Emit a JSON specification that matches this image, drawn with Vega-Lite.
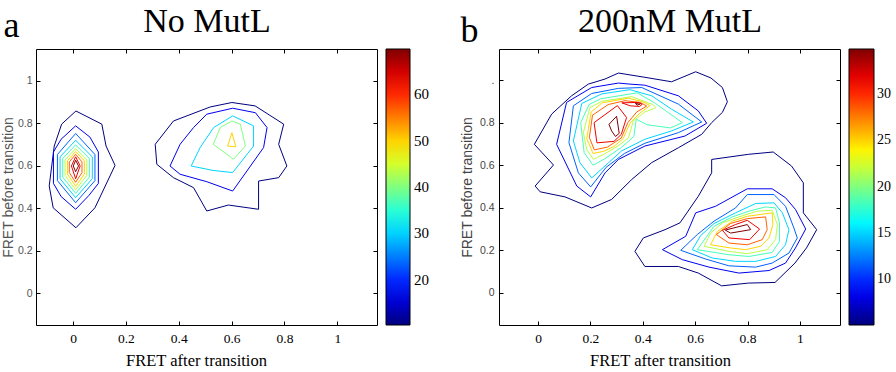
{
"$schema": "https://vega.github.io/schema/vega-lite/v6.json",
"padding": {"left": 0, "top": 3, "right": 0, "bottom": 0},
"background": "white",
"spacing": 29,
"datasets": {
"a": [
{"c":"A1","l":10.2,"i":0,"x":0.011,"y":0.858},{"c":"A1","l":10.2,"i":1,"x":0.109,"y":0.796},{"c":"A1","l":10.2,"i":2,"x":0.125,"y":0.693},{"c":"A1","l":10.2,"i":3,"x":0.159,"y":0.602},{"c":"A1","l":10.2,"i":4,"x":0.083,"y":0.402},{"c":"A1","l":10.2,"i":5,"x":0.011,"y":0.308},{"c":"A1","l":10.2,"i":6,"x":-0.075,"y":0.402},{"c":"A1","l":10.2,"i":7,"x":-0.09,"y":0.505},{"c":"A1","l":10.2,"i":8,"x":-0.071,"y":0.693},{"c":"A1","l":10.2,"i":9,"x":-0.043,"y":0.796},{"c":"A1","l":10.2,"i":10,"x":0.011,"y":0.858},
{"c":"A2","l":16.8,"i":0,"x":0.01,"y":0.788},{"c":"A2","l":16.8,"i":1,"x":0.064,"y":0.735},{"c":"A2","l":16.8,"i":2,"x":0.096,"y":0.665},{"c":"A2","l":16.8,"i":3,"x":0.096,"y":0.517},{"c":"A2","l":16.8,"i":4,"x":0.06,"y":0.46},{"c":"A2","l":16.8,"i":5,"x":0.01,"y":0.395},{"c":"A2","l":16.8,"i":6,"x":-0.045,"y":0.455},{"c":"A2","l":16.8,"i":7,"x":-0.074,"y":0.517},{"c":"A2","l":16.8,"i":8,"x":-0.074,"y":0.665},{"c":"A2","l":16.8,"i":9,"x":-0.045,"y":0.725},{"c":"A2","l":16.8,"i":10,"x":0.01,"y":0.788},
{"c":"A3","l":23.4,"i":0,"x":0.01,"y":0.752},{"c":"A3","l":23.4,"i":1,"x":0.083,"y":0.653},{"c":"A3","l":23.4,"i":2,"x":0.083,"y":0.53},{"c":"A3","l":23.4,"i":3,"x":0.01,"y":0.426},{"c":"A3","l":23.4,"i":4,"x":-0.059,"y":0.53},{"c":"A3","l":23.4,"i":5,"x":-0.059,"y":0.653},{"c":"A3","l":23.4,"i":6,"x":0.01,"y":0.752},
{"c":"A4","l":30.1,"i":0,"x":0.01,"y":0.72},{"c":"A4","l":30.1,"i":1,"x":0.073,"y":0.642},{"c":"A4","l":30.1,"i":2,"x":0.073,"y":0.539},{"c":"A4","l":30.1,"i":3,"x":0.01,"y":0.45},{"c":"A4","l":30.1,"i":4,"x":-0.049,"y":0.539},{"c":"A4","l":30.1,"i":5,"x":-0.049,"y":0.642},{"c":"A4","l":30.1,"i":6,"x":0.01,"y":0.72},
{"c":"A5","l":36.7,"i":0,"x":0.01,"y":0.698},{"c":"A5","l":36.7,"i":1,"x":0.062,"y":0.634},{"c":"A5","l":36.7,"i":2,"x":0.062,"y":0.547},{"c":"A5","l":36.7,"i":3,"x":0.01,"y":0.47},{"c":"A5","l":36.7,"i":4,"x":-0.039,"y":0.547},{"c":"A5","l":36.7,"i":5,"x":-0.039,"y":0.634},{"c":"A5","l":36.7,"i":6,"x":0.01,"y":0.698},
{"c":"A6","l":43.3,"i":0,"x":0.01,"y":0.681},{"c":"A6","l":43.3,"i":1,"x":0.052,"y":0.627},{"c":"A6","l":43.3,"i":2,"x":0.052,"y":0.555},{"c":"A6","l":43.3,"i":3,"x":0.01,"y":0.487},{"c":"A6","l":43.3,"i":4,"x":-0.03,"y":0.555},{"c":"A6","l":43.3,"i":5,"x":-0.03,"y":0.627},{"c":"A6","l":43.3,"i":6,"x":0.01,"y":0.681},
{"c":"A7","l":49.9,"i":0,"x":0.01,"y":0.667},{"c":"A7","l":49.9,"i":1,"x":0.043,"y":0.623},{"c":"A7","l":49.9,"i":2,"x":0.043,"y":0.561},{"c":"A7","l":49.9,"i":3,"x":0.01,"y":0.503},{"c":"A7","l":49.9,"i":4,"x":-0.021,"y":0.561},{"c":"A7","l":49.9,"i":5,"x":-0.021,"y":0.623},{"c":"A7","l":49.9,"i":6,"x":0.01,"y":0.667},
{"c":"A8","l":56.6,"i":0,"x":0.01,"y":0.654},{"c":"A8","l":56.6,"i":1,"x":0.034,"y":0.618},{"c":"A8","l":56.6,"i":2,"x":0.034,"y":0.568},{"c":"A8","l":56.6,"i":3,"x":0.01,"y":0.522},{"c":"A8","l":56.6,"i":4,"x":-0.014,"y":0.568},{"c":"A8","l":56.6,"i":5,"x":-0.014,"y":0.618},{"c":"A8","l":56.6,"i":6,"x":0.01,"y":0.654},
{"c":"A9","l":63.2,"i":0,"x":0.01,"y":0.642},{"c":"A9","l":63.2,"i":1,"x":0.027,"y":0.599},{"c":"A9","l":63.2,"i":2,"x":0.01,"y":0.539},{"c":"A9","l":63.2,"i":3,"x":-0.006,"y":0.599},{"c":"A9","l":63.2,"i":4,"x":0.01,"y":0.642},
{"c":"A10","l":69.8,"i":0,"x":0.01,"y":0.626},{"c":"A10","l":69.8,"i":1,"x":0.021,"y":0.599},{"c":"A10","l":69.8,"i":2,"x":0.01,"y":0.572},{"c":"A10","l":69.8,"i":3,"x":0.001,"y":0.599},{"c":"A10","l":69.8,"i":4,"x":0.01,"y":0.626},
{"c":"A11","l":10.2,"i":0,"x":0.311,"y":0.701},{"c":"A11","l":10.2,"i":1,"x":0.38,"y":0.811},{"c":"A11","l":10.2,"i":2,"x":0.519,"y":0.877},{"c":"A11","l":10.2,"i":3,"x":0.601,"y":0.898},{"c":"A11","l":10.2,"i":4,"x":0.689,"y":0.882},{"c":"A11","l":10.2,"i":5,"x":0.797,"y":0.796},{"c":"A11","l":10.2,"i":6,"x":0.778,"y":0.701},{"c":"A11","l":10.2,"i":7,"x":0.809,"y":0.599},{"c":"A11","l":10.2,"i":8,"x":0.778,"y":0.544},{"c":"A11","l":10.2,"i":9,"x":0.702,"y":0.528},{"c":"A11","l":10.2,"i":10,"x":0.702,"y":0.395},{"c":"A11","l":10.2,"i":11,"x":0.588,"y":0.415},{"c":"A11","l":10.2,"i":12,"x":0.506,"y":0.387},{"c":"A11","l":10.2,"i":13,"x":0.456,"y":0.497},{"c":"A11","l":10.2,"i":14,"x":0.38,"y":0.544},{"c":"A11","l":10.2,"i":15,"x":0.317,"y":0.607},{"c":"A11","l":10.2,"i":16,"x":0.311,"y":0.701},
{"c":"A12","l":16.8,"i":0,"x":0.367,"y":0.599},{"c":"A12","l":16.8,"i":1,"x":0.405,"y":0.701},{"c":"A12","l":16.8,"i":2,"x":0.456,"y":0.78},{"c":"A12","l":16.8,"i":3,"x":0.506,"y":0.843},{"c":"A12","l":16.8,"i":4,"x":0.604,"y":0.871},{"c":"A12","l":16.8,"i":5,"x":0.69,"y":0.85},{"c":"A12","l":16.8,"i":6,"x":0.734,"y":0.78},{"c":"A12","l":16.8,"i":7,"x":0.721,"y":0.686},{"c":"A12","l":16.8,"i":8,"x":0.604,"y":0.481},{"c":"A12","l":16.8,"i":9,"x":0.506,"y":0.525},{"c":"A12","l":16.8,"i":10,"x":0.405,"y":0.56},{"c":"A12","l":16.8,"i":11,"x":0.367,"y":0.599},
{"c":"A13","l":30.1,"i":0,"x":0.447,"y":0.599},{"c":"A13","l":30.1,"i":1,"x":0.481,"y":0.686},{"c":"A13","l":30.1,"i":2,"x":0.532,"y":0.78},{"c":"A13","l":30.1,"i":3,"x":0.604,"y":0.835},{"c":"A13","l":30.1,"i":4,"x":0.683,"y":0.788},{"c":"A13","l":30.1,"i":5,"x":0.683,"y":0.693},{"c":"A13","l":30.1,"i":6,"x":0.604,"y":0.568},{"c":"A13","l":30.1,"i":7,"x":0.53,"y":0.578},{"c":"A13","l":30.1,"i":8,"x":0.447,"y":0.599},
{"c":"A14","l":40,"i":0,"x":0.531,"y":0.701},{"c":"A14","l":40,"i":1,"x":0.557,"y":0.78},{"c":"A14","l":40,"i":2,"x":0.601,"y":0.811},{"c":"A14","l":40,"i":3,"x":0.633,"y":0.796},{"c":"A14","l":40,"i":4,"x":0.652,"y":0.693},{"c":"A14","l":40,"i":5,"x":0.607,"y":0.631},{"c":"A14","l":40,"i":6,"x":0.531,"y":0.701},
{"c":"A15","l":50,"i":0,"x":0.601,"y":0.756},{"c":"A15","l":50,"i":1,"x":0.616,"y":0.689},{"c":"A15","l":50,"i":2,"x":0.585,"y":0.693},{"c":"A15","l":50,"i":3,"x":0.601,"y":0.756}
],
"b": [
{"c":"B1","l":5,"i":0,"x":-0.014,"y":0.698},{"c":"B1","l":5,"i":1,"x":0.059,"y":0.601},{"c":"B1","l":5,"i":2,"x":-0.011,"y":0.502},{"c":"B1","l":5,"i":3,"x":0.008,"y":0.475},{"c":"B1","l":5,"i":4,"x":0.103,"y":0.451},{"c":"B1","l":5,"i":5,"x":0.205,"y":0.399},{"c":"B1","l":5,"i":6,"x":0.281,"y":0.439},{"c":"B1","l":5,"i":7,"x":0.358,"y":0.533},{"c":"B1","l":5,"i":8,"x":0.434,"y":0.612},{"c":"B1","l":5,"i":9,"x":0.536,"y":0.682},{"c":"B1","l":5,"i":10,"x":0.625,"y":0.745},{"c":"B1","l":5,"i":11,"x":0.663,"y":0.8},{"c":"B1","l":5,"i":12,"x":0.704,"y":0.848},{"c":"B1","l":5,"i":13,"x":0.723,"y":0.898},{"c":"B1","l":5,"i":14,"x":0.704,"y":0.965},{"c":"B1","l":5,"i":15,"x":0.66,"y":1.01},{"c":"B1","l":5,"i":16,"x":0.602,"y":1.039},{"c":"B1","l":5,"i":17,"x":0.51,"y":0.992},{"c":"B1","l":5,"i":18,"x":0.408,"y":1.013},{"c":"B1","l":5,"i":19,"x":0.307,"y":1.033},{"c":"B1","l":5,"i":20,"x":0.256,"y":1.005},{"c":"B1","l":5,"i":21,"x":0.192,"y":0.981},{"c":"B1","l":5,"i":22,"x":0.128,"y":0.926},{"c":"B1","l":5,"i":23,"x":0.052,"y":0.84},{"c":"B1","l":5,"i":24,"x":-0.014,"y":0.698},
{"c":"B2","l":8.3,"i":0,"x":0.071,"y":0.698},{"c":"B2","l":8.3,"i":1,"x":0.109,"y":0.895},{"c":"B2","l":8.3,"i":2,"x":0.205,"y":0.965},{"c":"B2","l":8.3,"i":3,"x":0.307,"y":0.986},{"c":"B2","l":8.3,"i":4,"x":0.351,"y":0.981},{"c":"B2","l":8.3,"i":5,"x":0.408,"y":0.976},{"c":"B2","l":8.3,"i":6,"x":0.536,"y":0.926},{"c":"B2","l":8.3,"i":7,"x":0.612,"y":0.855},{"c":"B2","l":8.3,"i":8,"x":0.644,"y":0.797},{"c":"B2","l":8.3,"i":9,"x":0.561,"y":0.737},{"c":"B2","l":8.3,"i":10,"x":0.408,"y":0.69},{"c":"B2","l":8.3,"i":11,"x":0.307,"y":0.627},{"c":"B2","l":8.3,"i":12,"x":0.256,"y":0.564},{"c":"B2","l":8.3,"i":13,"x":0.201,"y":0.451},{"c":"B2","l":8.3,"i":14,"x":0.148,"y":0.502},{"c":"B2","l":8.3,"i":15,"x":0.071,"y":0.698},
{"c":"B3","l":11.6,"i":0,"x":0.118,"y":0.706},{"c":"B3","l":11.6,"i":1,"x":0.135,"y":0.879},{"c":"B3","l":11.6,"i":2,"x":0.205,"y":0.937},{"c":"B3","l":11.6,"i":3,"x":0.307,"y":0.961},{"c":"B3","l":11.6,"i":4,"x":0.396,"y":0.965},{"c":"B3","l":11.6,"i":5,"x":0.536,"y":0.887},{"c":"B3","l":11.6,"i":6,"x":0.625,"y":0.803},{"c":"B3","l":11.6,"i":7,"x":0.536,"y":0.753},{"c":"B3","l":11.6,"i":8,"x":0.408,"y":0.703},{"c":"B3","l":11.6,"i":9,"x":0.33,"y":0.655},{"c":"B3","l":11.6,"i":10,"x":0.26,"y":0.59},{"c":"B3","l":11.6,"i":11,"x":0.201,"y":0.498},{"c":"B3","l":11.6,"i":12,"x":0.154,"y":0.564},{"c":"B3","l":11.6,"i":13,"x":0.118,"y":0.706},
{"c":"B4","l":15,"i":0,"x":0.135,"y":0.714},{"c":"B4","l":15,"i":1,"x":0.167,"y":0.89},{"c":"B4","l":15,"i":2,"x":0.243,"y":0.935},{"c":"B4","l":15,"i":3,"x":0.351,"y":0.955},{"c":"B4","l":15,"i":4,"x":0.434,"y":0.926},{"c":"B4","l":15,"i":5,"x":0.51,"y":0.863},{"c":"B4","l":15,"i":6,"x":0.593,"y":0.803},{"c":"B4","l":15,"i":7,"x":0.51,"y":0.761},{"c":"B4","l":15,"i":8,"x":0.408,"y":0.722},{"c":"B4","l":15,"i":9,"x":0.319,"y":0.667},{"c":"B4","l":15,"i":10,"x":0.268,"y":0.61},{"c":"B4","l":15,"i":11,"x":0.205,"y":0.54},{"c":"B4","l":15,"i":12,"x":0.16,"y":0.612},{"c":"B4","l":15,"i":13,"x":0.135,"y":0.714},
{"c":"B5","l":18.3,"i":0,"x":0.163,"y":0.8},{"c":"B5","l":18.3,"i":1,"x":0.195,"y":0.885},{"c":"B5","l":18.3,"i":2,"x":0.239,"y":0.912},{"c":"B5","l":18.3,"i":3,"x":0.379,"y":0.94},{"c":"B5","l":18.3,"i":4,"x":0.449,"y":0.89},{"c":"B5","l":18.3,"i":5,"x":0.494,"y":0.85},{"c":"B5","l":18.3,"i":6,"x":0.551,"y":0.8},{"c":"B5","l":18.3,"i":7,"x":0.506,"y":0.775},{"c":"B5","l":18.3,"i":8,"x":0.417,"y":0.79},{"c":"B5","l":18.3,"i":9,"x":0.375,"y":0.816},{"c":"B5","l":18.3,"i":10,"x":0.366,"y":0.735},{"c":"B5","l":18.3,"i":11,"x":0.32,"y":0.685},{"c":"B5","l":18.3,"i":12,"x":0.255,"y":0.63},{"c":"B5","l":18.3,"i":13,"x":0.21,"y":0.6},{"c":"B5","l":18.3,"i":14,"x":0.176,"y":0.66},{"c":"B5","l":18.3,"i":15,"x":0.163,"y":0.8},
{"c":"B6","l":21.6,"i":0,"x":0.173,"y":0.753},{"c":"B6","l":21.6,"i":1,"x":0.198,"y":0.87},{"c":"B6","l":21.6,"i":2,"x":0.243,"y":0.9},{"c":"B6","l":21.6,"i":3,"x":0.358,"y":0.922},{"c":"B6","l":21.6,"i":4,"x":0.438,"y":0.885},{"c":"B6","l":21.6,"i":5,"x":0.45,"y":0.87},{"c":"B6","l":21.6,"i":6,"x":0.408,"y":0.85},{"c":"B6","l":21.6,"i":7,"x":0.364,"y":0.808},{"c":"B6","l":21.6,"i":8,"x":0.345,"y":0.728},{"c":"B6","l":21.6,"i":9,"x":0.305,"y":0.69},{"c":"B6","l":21.6,"i":10,"x":0.25,"y":0.65},{"c":"B6","l":21.6,"i":11,"x":0.211,"y":0.628},{"c":"B6","l":21.6,"i":12,"x":0.186,"y":0.675},{"c":"B6","l":21.6,"i":13,"x":0.173,"y":0.753},
{"c":"B7","l":24.9,"i":0,"x":0.186,"y":0.725},{"c":"B7","l":24.9,"i":1,"x":0.203,"y":0.85},{"c":"B7","l":24.9,"i":2,"x":0.245,"y":0.893},{"c":"B7","l":24.9,"i":3,"x":0.345,"y":0.915},{"c":"B7","l":24.9,"i":4,"x":0.4,"y":0.898},{"c":"B7","l":24.9,"i":5,"x":0.428,"y":0.88},{"c":"B7","l":24.9,"i":6,"x":0.389,"y":0.845},{"c":"B7","l":24.9,"i":7,"x":0.351,"y":0.797},{"c":"B7","l":24.9,"i":8,"x":0.325,"y":0.725},{"c":"B7","l":24.9,"i":9,"x":0.29,"y":0.688},{"c":"B7","l":24.9,"i":10,"x":0.25,"y":0.665},{"c":"B7","l":24.9,"i":11,"x":0.21,"y":0.655},{"c":"B7","l":24.9,"i":12,"x":0.186,"y":0.725},
{"c":"B8","l":28.3,"i":0,"x":0.196,"y":0.73},{"c":"B8","l":28.3,"i":1,"x":0.208,"y":0.835},{"c":"B8","l":28.3,"i":2,"x":0.268,"y":0.885},{"c":"B8","l":28.3,"i":3,"x":0.332,"y":0.903},{"c":"B8","l":28.3,"i":4,"x":0.39,"y":0.895},{"c":"B8","l":28.3,"i":5,"x":0.415,"y":0.878},{"c":"B8","l":28.3,"i":6,"x":0.377,"y":0.85},{"c":"B8","l":28.3,"i":7,"x":0.343,"y":0.8},{"c":"B8","l":28.3,"i":8,"x":0.318,"y":0.728},{"c":"B8","l":28.3,"i":9,"x":0.265,"y":0.685},{"c":"B8","l":28.3,"i":10,"x":0.215,"y":0.672},{"c":"B8","l":28.3,"i":11,"x":0.196,"y":0.73},
{"c":"B9","l":31.6,"i":0,"x":0.214,"y":0.8},{"c":"B9","l":31.6,"i":1,"x":0.303,"y":0.88},{"c":"B9","l":31.6,"i":2,"x":0.338,"y":0.824},{"c":"B9","l":31.6,"i":3,"x":0.318,"y":0.745},{"c":"B9","l":31.6,"i":4,"x":0.29,"y":0.712},{"c":"B9","l":31.6,"i":5,"x":0.225,"y":0.705},{"c":"B9","l":31.6,"i":6,"x":0.214,"y":0.8},
{"c":"B9b","l":31.6,"i":0,"x":0.32,"y":0.893},{"c":"B9b","l":31.6,"i":1,"x":0.383,"y":0.895},{"c":"B9b","l":31.6,"i":2,"x":0.398,"y":0.886},{"c":"B9b","l":31.6,"i":3,"x":0.388,"y":0.876},{"c":"B9b","l":31.6,"i":4,"x":0.352,"y":0.879},{"c":"B9b","l":31.6,"i":5,"x":0.32,"y":0.893},
{"c":"B10","l":34.9,"i":0,"x":0.271,"y":0.792},{"c":"B10","l":34.9,"i":1,"x":0.3,"y":0.83},{"c":"B10","l":34.9,"i":2,"x":0.31,"y":0.75},{"c":"B10","l":34.9,"i":3,"x":0.296,"y":0.735},{"c":"B10","l":34.9,"i":4,"x":0.281,"y":0.761},{"c":"B10","l":34.9,"i":5,"x":0.271,"y":0.792},
{"c":"B10b","l":34.9,"i":0,"x":0.372,"y":0.89},{"c":"B10b","l":34.9,"i":1,"x":0.39,"y":0.887},{"c":"B10b","l":34.9,"i":2,"x":0.378,"y":0.882},{"c":"B10b","l":34.9,"i":3,"x":0.372,"y":0.89},
{"c":"B11","l":5,"i":0,"x":0.37,"y":0.195},{"c":"B11","l":5,"i":1,"x":0.402,"y":0.258},{"c":"B11","l":5,"i":2,"x":0.485,"y":0.297},{"c":"B11","l":5,"i":3,"x":0.542,"y":0.329},{"c":"B11","l":5,"i":4,"x":0.612,"y":0.454},{"c":"B11","l":5,"i":5,"x":0.663,"y":0.564},{"c":"B11","l":5,"i":6,"x":0.663,"y":0.627},{"c":"B11","l":5,"i":7,"x":0.803,"y":0.651},{"c":"B11","l":5,"i":8,"x":0.898,"y":0.662},{"c":"B11","l":5,"i":9,"x":0.968,"y":0.596},{"c":"B11","l":5,"i":10,"x":1.013,"y":0.517},{"c":"B11","l":5,"i":11,"x":1.013,"y":0.376},{"c":"B11","l":5,"i":12,"x":1.064,"y":0.297},{"c":"B11","l":5,"i":13,"x":1.025,"y":0.211},{"c":"B11","l":5,"i":14,"x":0.981,"y":0.14},{"c":"B11","l":5,"i":15,"x":0.905,"y":0.049},{"c":"B11","l":5,"i":16,"x":0.803,"y":0.046},{"c":"B11","l":5,"i":17,"x":0.701,"y":0.033},{"c":"B11","l":5,"i":18,"x":0.612,"y":0.093},{"c":"B11","l":5,"i":19,"x":0.536,"y":0.124},{"c":"B11","l":5,"i":20,"x":0.408,"y":0.124},{"c":"B11","l":5,"i":21,"x":0.37,"y":0.195},
{"c":"B12","l":8.3,"i":0,"x":0.475,"y":0.203},{"c":"B12","l":8.3,"i":1,"x":0.564,"y":0.266},{"c":"B12","l":8.3,"i":2,"x":0.602,"y":0.376},{"c":"B12","l":8.3,"i":3,"x":0.678,"y":0.407},{"c":"B12","l":8.3,"i":4,"x":0.799,"y":0.489},{"c":"B12","l":8.3,"i":5,"x":0.894,"y":0.489},{"c":"B12","l":8.3,"i":6,"x":0.945,"y":0.447},{"c":"B12","l":8.3,"i":7,"x":0.983,"y":0.392},{"c":"B12","l":8.3,"i":8,"x":1.022,"y":0.3},{"c":"B12","l":8.3,"i":9,"x":0.983,"y":0.211},{"c":"B12","l":8.3,"i":10,"x":0.945,"y":0.14},{"c":"B12","l":8.3,"i":11,"x":0.882,"y":0.105},{"c":"B12","l":8.3,"i":12,"x":0.767,"y":0.093},{"c":"B12","l":8.3,"i":13,"x":0.653,"y":0.121},{"c":"B12","l":8.3,"i":14,"x":0.551,"y":0.156},{"c":"B12","l":8.3,"i":15,"x":0.475,"y":0.203},
{"c":"B13","l":11.6,"i":0,"x":0.545,"y":0.2},{"c":"B13","l":11.6,"i":1,"x":0.608,"y":0.274},{"c":"B13","l":11.6,"i":2,"x":0.672,"y":0.337},{"c":"B13","l":11.6,"i":3,"x":0.754,"y":0.399},{"c":"B13","l":11.6,"i":4,"x":0.799,"y":0.462},{"c":"B13","l":11.6,"i":5,"x":0.901,"y":0.462},{"c":"B13","l":11.6,"i":6,"x":0.945,"y":0.407},{"c":"B13","l":11.6,"i":7,"x":0.977,"y":0.305},{"c":"B13","l":11.6,"i":8,"x":0.99,"y":0.258},{"c":"B13","l":11.6,"i":9,"x":0.958,"y":0.187},{"c":"B13","l":11.6,"i":10,"x":0.894,"y":0.14},{"c":"B13","l":11.6,"i":11,"x":0.831,"y":0.121},{"c":"B13","l":11.6,"i":12,"x":0.729,"y":0.127},{"c":"B13","l":11.6,"i":13,"x":0.64,"y":0.159},{"c":"B13","l":11.6,"i":14,"x":0.545,"y":0.2},
{"c":"B14","l":15,"i":0,"x":0.589,"y":0.203},{"c":"B14","l":15,"i":1,"x":0.621,"y":0.269},{"c":"B14","l":15,"i":2,"x":0.672,"y":0.326},{"c":"B14","l":15,"i":3,"x":0.754,"y":0.376},{"c":"B14","l":15,"i":4,"x":0.831,"y":0.42},{"c":"B14","l":15,"i":5,"x":0.901,"y":0.423},{"c":"B14","l":15,"i":6,"x":0.933,"y":0.376},{"c":"B14","l":15,"i":7,"x":0.958,"y":0.297},{"c":"B14","l":15,"i":8,"x":0.945,"y":0.226},{"c":"B14","l":15,"i":9,"x":0.907,"y":0.171},{"c":"B14","l":15,"i":10,"x":0.831,"y":0.148},{"c":"B14","l":15,"i":11,"x":0.754,"y":0.148},{"c":"B14","l":15,"i":12,"x":0.665,"y":0.164},{"c":"B14","l":15,"i":13,"x":0.589,"y":0.203},
{"c":"B15","l":18.3,"i":0,"x":0.608,"y":0.203},{"c":"B15","l":18.3,"i":1,"x":0.643,"y":0.263},{"c":"B15","l":18.3,"i":2,"x":0.672,"y":0.313},{"c":"B15","l":18.3,"i":3,"x":0.742,"y":0.357},{"c":"B15","l":18.3,"i":4,"x":0.805,"y":0.384},{"c":"B15","l":18.3,"i":5,"x":0.869,"y":0.404},{"c":"B15","l":18.3,"i":6,"x":0.907,"y":0.399},{"c":"B15","l":18.3,"i":7,"x":0.922,"y":0.329},{"c":"B15","l":18.3,"i":8,"x":0.922,"y":0.242},{"c":"B15","l":18.3,"i":9,"x":0.894,"y":0.19},{"c":"B15","l":18.3,"i":10,"x":0.805,"y":0.171},{"c":"B15","l":18.3,"i":11,"x":0.729,"y":0.179},{"c":"B15","l":18.3,"i":12,"x":0.608,"y":0.203},
{"c":"B16","l":21.6,"i":0,"x":0.634,"y":0.219},{"c":"B16","l":21.6,"i":1,"x":0.659,"y":0.281},{"c":"B16","l":21.6,"i":2,"x":0.704,"y":0.329},{"c":"B16","l":21.6,"i":3,"x":0.767,"y":0.357},{"c":"B16","l":21.6,"i":4,"x":0.837,"y":0.384},{"c":"B16","l":21.6,"i":5,"x":0.894,"y":0.388},{"c":"B16","l":21.6,"i":6,"x":0.914,"y":0.321},{"c":"B16","l":21.6,"i":7,"x":0.907,"y":0.25},{"c":"B16","l":21.6,"i":8,"x":0.875,"y":0.203},{"c":"B16","l":21.6,"i":9,"x":0.799,"y":0.184},{"c":"B16","l":21.6,"i":10,"x":0.729,"y":0.195},{"c":"B16","l":21.6,"i":11,"x":0.634,"y":0.219},
{"c":"B17","l":24.9,"i":0,"x":0.659,"y":0.226},{"c":"B17","l":24.9,"i":1,"x":0.685,"y":0.289},{"c":"B17","l":24.9,"i":2,"x":0.742,"y":0.337},{"c":"B17","l":24.9,"i":3,"x":0.799,"y":0.36},{"c":"B17","l":24.9,"i":4,"x":0.894,"y":0.376},{"c":"B17","l":24.9,"i":5,"x":0.897,"y":0.321},{"c":"B17","l":24.9,"i":6,"x":0.882,"y":0.258},{"c":"B17","l":24.9,"i":7,"x":0.85,"y":0.219},{"c":"B17","l":24.9,"i":8,"x":0.793,"y":0.203},{"c":"B17","l":24.9,"i":9,"x":0.735,"y":0.211},{"c":"B17","l":24.9,"i":10,"x":0.659,"y":0.226},
{"c":"B18","l":28.3,"i":0,"x":0.681,"y":0.274},{"c":"B18","l":28.3,"i":1,"x":0.735,"y":0.326},{"c":"B18","l":28.3,"i":2,"x":0.799,"y":0.349},{"c":"B18","l":28.3,"i":3,"x":0.869,"y":0.357},{"c":"B18","l":28.3,"i":4,"x":0.875,"y":0.297},{"c":"B18","l":28.3,"i":5,"x":0.856,"y":0.25},{"c":"B18","l":28.3,"i":6,"x":0.799,"y":0.226},{"c":"B18","l":28.3,"i":7,"x":0.729,"y":0.234},{"c":"B18","l":28.3,"i":8,"x":0.681,"y":0.274},
{"c":"B19","l":31.6,"i":0,"x":0.704,"y":0.294},{"c":"B19","l":31.6,"i":1,"x":0.754,"y":0.321},{"c":"B19","l":31.6,"i":2,"x":0.799,"y":0.341},{"c":"B19","l":31.6,"i":3,"x":0.846,"y":0.3},{"c":"B19","l":31.6,"i":4,"x":0.808,"y":0.25},{"c":"B19","l":31.6,"i":5,"x":0.729,"y":0.258},{"c":"B19","l":31.6,"i":6,"x":0.704,"y":0.294},
{"c":"B20","l":34.9,"i":0,"x":0.715,"y":0.295},{"c":"B20","l":34.9,"i":1,"x":0.799,"y":0.321},{"c":"B20","l":34.9,"i":2,"x":0.812,"y":0.297},{"c":"B20","l":34.9,"i":3,"x":0.735,"y":0.281},{"c":"B20","l":34.9,"i":4,"x":0.715,"y":0.295}
]
},
"hconcat": [
{
"width": 341, "height": 276,
"data": {"name": "a"},
"layer": [
{
"mark": {"type": "line", "strokeWidth": 1, "clip": true},
"encoding": {
"x": {"field": "x", "type": "quantitative", "scale": {"domain": [-0.14, 1.15], "nice": false, "zero": false},
 "axis": {"orient": "bottom", "values": [0, 0.2, 0.4, 0.6, 0.8, 1], "format": "~g", "grid": false, "domain": false, "tickSize": -4, "tickColor": "#000", "labelFont": "Liberation Serif", "labelFontSize": 13.5, "labelColor": "#000", "labelPadding": 10, "title": "FRET after transition", "titleFont": "Liberation Serif", "titleFontSize": 16.5, "titleFontWeight": "normal", "titleColor": "#000", "titlePadding": 8, "titleX": 160}},
"y": {"field": "y", "type": "quantitative", "scale": {"domain": [-0.15, 1.15], "nice": false, "zero": false},
 "axis": {"orient": "left", "values": [0, 0.2, 0.4, 0.6, 0.8, 1], "format": "~g", "grid": false, "domain": false, "tickSize": -4, "tickColor": "#000", "labelFont": "Liberation Sans", "labelFontSize": 10.5, "labelColor": "#555", "labelPadding": 8, "title": "FRET before transition", "titleFont": "Liberation Sans", "titleFontSize": 14, "titleFontWeight": "normal", "titleColor": "#555", "titlePadding": 2}},
"color": {"field": "l", "type": "quantitative",
 "scale": {"domain": [10.2, 17.65, 32.55, 47.45, 62.35, 69.8], "range": ["#00007f", "#0000ff", "#00ffff", "#ffff00", "#ff0000", "#7f0000"], "interpolate": "rgb", "nice": false, "zero": false},
 "legend": {"title": null, "values": [20, 30, 40, 50, 60], "format": "d", "gradientLength": 276, "gradientThickness": 24, "gradientStrokeColor": "#000", "gradientStrokeWidth": 1, "labelFont": "Liberation Serif", "labelFontSize": 15, "labelColor": "#000", "labelOffset": 4, "offset": 8, "padding": 0}},
"detail": {"field": "c", "type": "nominal"},
"order": {"field": "i", "type": "quantitative"}
}
},
{
"mark": {"type": "line", "strokeOpacity": 0},
"encoding": {
"x": {"field": "x", "type": "quantitative", "axis": {"orient": "top", "values": [0, 0.2, 0.4, 0.6, 0.8, 1], "labels": false, "grid": false, "domain": false, "tickSize": -4, "tickColor": "#000", "title": "No MutL", "titleFont": "Liberation Serif", "titleFontSize": 34, "titleFontWeight": "normal", "titleColor": "#000", "titleBaseline": "alphabetic", "titleY": -18}},
"y": {"field": "y", "type": "quantitative", "axis": {"orient": "right", "values": [0, 0.2, 0.4, 0.6, 0.8, 1], "labels": false, "grid": false, "domain": false, "tickSize": -4, "tickColor": "#000", "title": "a", "titleFont": "Liberation Serif", "titleFontSize": 36, "titleFontWeight": "normal", "titleColor": "#000", "titleAngle": 0, "titleAlign": "left", "titleBaseline": "alphabetic", "titleX": -374, "titleY": -13}},
"detail": {"field": "c", "type": "nominal"}
}
}
],
"resolve": {"axis": {"x": "independent", "y": "independent"}}
},
{
"width": 341, "height": 276,
"data": {"name": "b"},
"layer": [
{
"mark": {"type": "line", "strokeWidth": 1, "clip": true},
"encoding": {
"x": {"field": "x", "type": "quantitative", "scale": {"domain": [-0.149, 1.153], "nice": false, "zero": false},
 "axis": {"orient": "bottom", "values": [0, 0.2, 0.4, 0.6, 0.8, 1], "format": "~g", "grid": false, "domain": false, "tickSize": -4, "tickColor": "#000", "labelFont": "Liberation Serif", "labelFontSize": 13.5, "labelColor": "#000", "labelPadding": 10, "title": "FRET after transition", "titleFont": "Liberation Serif", "titleFontSize": 16.5, "titleFontWeight": "normal", "titleColor": "#000", "titlePadding": 8, "titleX": 161}},
"y": {"field": "y", "type": "quantitative", "scale": {"domain": [-0.151, 1.146], "nice": false, "zero": false},
 "axis": {"orient": "left", "values": [0, 0.2, 0.4, 0.6, 0.8, 1], "format": "~g", "labelExpr": "datum.value == 1 ? '.' : datum.label", "grid": false, "domain": false, "tickSize": -4, "tickColor": "#000", "labelFont": "Liberation Sans", "labelFontSize": 10.5, "labelColor": "#444", "labelPadding": 9, "title": "FRET before transition", "titleFont": "Liberation Sans", "titleFontSize": 14, "titleFontWeight": "normal", "titleColor": "#444", "titlePadding": 5}},
"color": {"field": "l", "type": "quantitative",
 "scale": {"domain": [5, 8.74, 16.21, 23.69, 31.16, 34.9], "range": ["#00007f", "#0000ff", "#00ffff", "#ffff00", "#ff0000", "#7f0000"], "interpolate": "rgb", "nice": false, "zero": false},
 "legend": {"title": null, "values": [10, 15, 20, 25, 30], "format": "d", "gradientLength": 276, "gradientThickness": 25, "gradientStrokeColor": "#000", "gradientStrokeWidth": 1, "labelFont": "Liberation Serif", "labelFontSize": 14, "labelColor": "#000", "labelOffset": 3, "offset": 8, "padding": 0}},
"detail": {"field": "c", "type": "nominal"},
"order": {"field": "i", "type": "quantitative"}
}
},
{
"mark": {"type": "line", "strokeOpacity": 0},
"encoding": {
"x": {"field": "x", "type": "quantitative", "axis": {"orient": "top", "values": [0, 0.2, 0.4, 0.6, 0.8, 1], "labels": false, "grid": false, "domain": false, "tickSize": -4, "tickColor": "#000", "title": "200nM MutL", "titleFont": "Liberation Serif", "titleFontSize": 34, "titleFontWeight": "normal", "titleColor": "#000", "titleBaseline": "alphabetic", "titleY": -18}},
"y": {"field": "y", "type": "quantitative", "axis": {"orient": "right", "values": [0, 0.2, 0.4, 0.6, 0.8, 1], "labels": false, "grid": false, "domain": false, "tickSize": -4, "tickColor": "#000", "title": "b", "titleFont": "Liberation Serif", "titleFontSize": 36, "titleFontWeight": "normal", "titleColor": "#000", "titleAngle": 0, "titleAlign": "left", "titleBaseline": "alphabetic", "titleX": -380, "titleY": -8}},
"detail": {"field": "c", "type": "nominal"}
}
}
],
"resolve": {"axis": {"x": "independent", "y": "independent"}}
}
],
"resolve": {"scale": {"color": "independent"}},
"config": {
"view": {"stroke": "#000", "strokeWidth": 1},
"axis": {"grid": false}
}
}
